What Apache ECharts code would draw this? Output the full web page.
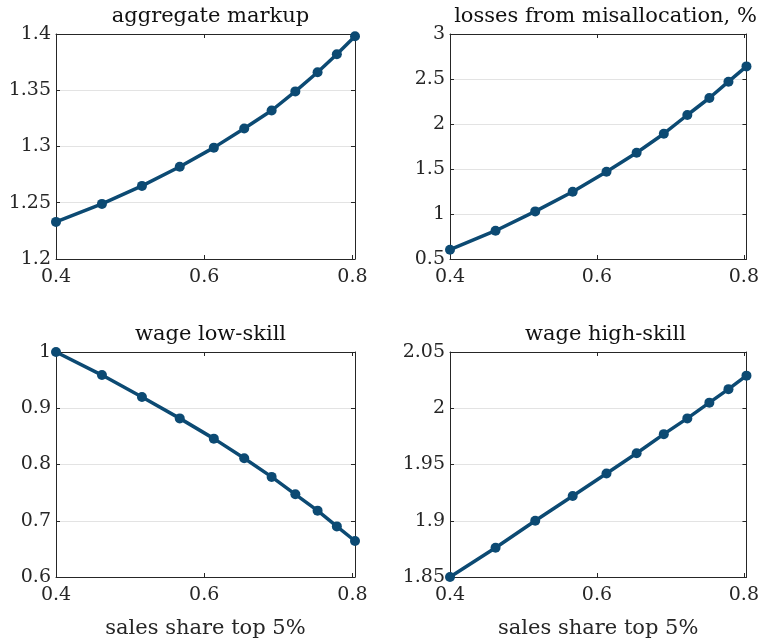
<!DOCTYPE html>
<html>
<head>
<meta charset="utf-8">
<script src="https://cdn.jsdelivr.net/npm/echarts@6/dist/echarts.min.js"></script>
<style>html,body{margin:0;padding:0;background:#fff}#c{width:762px;height:641px}</style>
</head>
<body>
<div id="c"></div>
<script>
const shareTop5 = [0.4, 0.462, 0.516, 0.567, 0.613, 0.654, 0.691, 0.723, 0.753, 0.779, 0.8035];
const aggregateMarkup = [1.233, 1.249, 1.265, 1.282, 1.299, 1.316, 1.332, 1.349, 1.366, 1.382, 1.398];
const lossesMisallocation = [0.603, 0.814, 1.029, 1.248, 1.470, 1.681, 1.892, 2.100, 2.289, 2.470, 2.640];
const wageLowSkill = [1.000, 0.959, 0.920, 0.882, 0.846, 0.811, 0.778, 0.747, 0.718, 0.690, 0.664];
const wageHighSkill = [1.850, 1.876, 1.900, 1.922, 1.942, 1.960, 1.977, 1.991, 2.005, 2.017, 2.029];
const titles = ['aggregate markup', 'losses from misallocation, %', 'wage low-skill', 'wage high-skill'];
const xTicks = [0.4, 0.6, 0.8];
const yRanges = [[1.2, 1.4, 0.05], [0.5, 3, 0.5], [0.6, 1.0, 0.1], [1.85, 2.05, 0.05]];
const xLabel = 'sales share top 5%';

const FONT = 'DejaVu Serif';
const TXT = '#262626';
const BOX = '#262626';
const LINE = '#0c4a73';

const grids = [
  {left: 56, top: 34, width: 299, height: 225},
  {left: 450, top: 34, width: 301, height: 225},
  {left: 56, top: 352, width: 299, height: 225},
  {left: 450, top: 352, width: 301, height: 225}
];
const seriesData = [aggregateMarkup, lossesMisallocation, wageLowSkill, wageHighSkill];

const xAxes = [], yAxes = [], series = [], title = [];
grids.forEach((g, i) => {
  const tickInside = {show: true, inside: true, length: 4, lineStyle: {color: BOX, width: 1}};
  xAxes.push({
    gridIndex: i, type: 'value', position: 'bottom',
    min: 0.4, max: shareTop5[shareTop5.length - 1], interval: 0.2,
    axisLine: {show: true, onZero: false, lineStyle: {color: BOX, width: 1}},
    axisTick: tickInside,
    splitLine: {show: false},
    axisLabel: {
      color: TXT, fontFamily: FONT, fontSize: 19, margin: 9,
      formatter: v => xTicks.some(t => Math.abs(t - v) < 1e-6) ? String(v) : ''
    },
    name: i >= 2 ? xLabel : '', nameLocation: 'middle', nameGap: 41,
    nameTextStyle: {color: TXT, fontFamily: FONT, fontSize: 21}
  });
  xAxes.push({
    gridIndex: i, type: 'value', position: 'top',
    min: 0.4, max: shareTop5[shareTop5.length - 1], interval: 0.2,
    axisLine: {show: true, onZero: false, lineStyle: {color: BOX, width: 1}},
    axisTick: tickInside, axisLabel: {show: false}, splitLine: {show: false}
  });
  const r = yRanges[i];
  yAxes.push({
    gridIndex: i, type: 'value', position: 'left',
    min: r[0], max: r[1], interval: r[2],
    axisLine: {show: true, onZero: false, lineStyle: {color: BOX, width: 1}},
    axisTick: tickInside,
    splitLine: {show: true, lineStyle: {color: '#e3e3e3', width: 1}},
    axisLabel: {color: TXT, fontFamily: FONT, fontSize: 19, margin: 5,
      formatter: v => String(parseFloat(v.toFixed(4)))}
  });
  yAxes.push({
    gridIndex: i, type: 'value', position: 'right',
    min: r[0], max: r[1], interval: r[2],
    axisLine: {show: true, onZero: false, lineStyle: {color: BOX, width: 1}},
    axisTick: tickInside, axisLabel: {show: false}, splitLine: {show: false}
  });
  series.push({
    type: 'line', xAxisIndex: 2 * i, yAxisIndex: 2 * i,
    data: shareTop5.map((x, k) => [x, seriesData[i][k]]),
    symbol: 'circle', symbolSize: 10, showSymbol: true,
    lineStyle: {color: LINE, width: 3.5}, itemStyle: {color: LINE},
    clip: false, animation: false
  });
  title.push({
    text: titles[i], left: g.left + g.width / 2, textAlign: 'center',
    top: i < 2 ? 1 : 319,
    textStyle: {color: '#111', fontFamily: FONT, fontSize: 21, fontWeight: 'normal'}
  });
});

const chart = echarts.init(document.getElementById('c'), null, {renderer: 'canvas'});
chart.setOption({
  backgroundColor: '#fff', animation: false,
  title: title, grid: grids, xAxis: xAxes, yAxis: yAxes, series: series
});
</script>
</body>
</html>
